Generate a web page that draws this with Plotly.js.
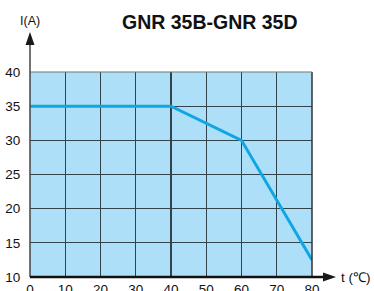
<!DOCTYPE html>
<html><head><meta charset="utf-8">
<script src="https://cdn.plot.ly/plotly-3.0.1.min.js"></script>
<style>html,body{margin:0;padding:0;background:#fff}#c{width:374px;height:291px}</style>
</head><body><div id="c"></div>
<script>
const temps = [0, 40, 60, 80];
const current = [35, 35, 30, 12.5];
const xTicks = [0, 10, 20, 30, 40, 50, 60, 70, 80];
const yTicks = [10, 15, 20, 25, 30, 35, 40];
const chartTitle = 'GNR 35B-GNR 35D';
const yLabel = 'I(A)';
const xLabel = 't (℃)';

const font = 'Arial, "Liberation Sans", sans-serif';
const W = 282, H = 205; // plot area size in px
const px = v => v / W, py = v => v / H;
const trace = {
  x: temps, y: current, type: 'scatter', mode: 'lines',
  line: {color: '#10a6e2', width: 3}, hoverinfo: 'none', cliponaxis: false
};
const layout = {
  width: 374, height: 291,
  margin: {l: 30, r: 62, t: 72, b: 14},
  paper_bgcolor: '#ffffff', plot_bgcolor: '#ade0f8',
  showlegend: false,
  font: {family: font, color: '#111', size: 13.5},
  xaxis: {
    range: [0, 80], tickvals: xTicks, ticktext: xTicks.map(String),
    showgrid: true, gridcolor: '#33434b', gridwidth: 1.2,
    showline: false, zeroline: false,
    ticks: '', ticklen: 0, ticklabelstandoff: 2,
    tickfont: {family: font, size: 13.5, color: '#111'}, fixedrange: true
  },
  yaxis: {
    range: [10, 40], tickvals: yTicks, ticktext: yTicks.map(String),
    showgrid: true, gridcolor: '#33434b', gridwidth: 1.2,
    showline: false, zeroline: false,
    ticks: 'outside', ticklen: 6, tickcolor: 'rgba(0,0,0,0)',
    tickfont: {family: font, size: 13.5, color: '#111'}, fixedrange: true
  },
  shapes: [
    {type: 'line', xref: 'paper', yref: 'paper', x0: 1, x1: 1, y0: 0, y1: 1, line: {color: '#333', width: 1.5}},
    {type: 'line', xref: 'paper', yref: 'paper', x0: 0, x1: 1, y0: 1, y1: 1, line: {color: '#777', width: 1.2}},
    {type: 'line', xref: 'paper', yref: 'paper', x0: 0, x1: 0, y0: 0, y1: 1 + py(28), line: {color: '#444', width: 1.5}},
    {type: 'line', xref: 'paper', yref: 'paper', x0: 0, x1: 1 + px(12), y0: 0, y1: 0, line: {color: '#111', width: 2.5}},
    {type: 'path', xref: 'paper', yref: 'paper', fillcolor: '#1a1a1a', line: {width: 0},
     path: `M ${-px(4.5)},${1 + py(27)} L 0,${1 + py(40)} L ${px(4.5)},${1 + py(27)} Z`},
    {type: 'path', xref: 'paper', yref: 'paper', fillcolor: '#1a1a1a', line: {width: 0},
     path: `M ${1 + px(11)},${-py(4.5)} L ${1 + px(24)},0 L ${1 + px(11)},${py(4.5)} Z`}
  ],
  annotations: [
    {xref: 'paper', yref: 'paper', x: -0.001, y: 1 + py(51), showarrow: false, text: yLabel,
     xanchor: 'center', yanchor: 'middle', font: {family: font, size: 12.5, color: '#111'}},
    {xref: 'paper', yref: 'paper', x: 1 + px(27), y: 0, showarrow: false, text: xLabel,
     xanchor: 'left', yanchor: 'middle', font: {family: font, size: 13.5, color: '#111'}},
    {xref: 'paper', yref: 'paper', x: px(180), y: 1 + py(50), showarrow: false, text: '<b>' + chartTitle + '</b>',
     xanchor: 'center', yanchor: 'middle', font: {family: font, size: 19.5, color: '#111'}}
  ]
};
Plotly.newPlot('c', [trace], layout, {staticPlot: true, displayModeBar: false});
</script></body></html>
